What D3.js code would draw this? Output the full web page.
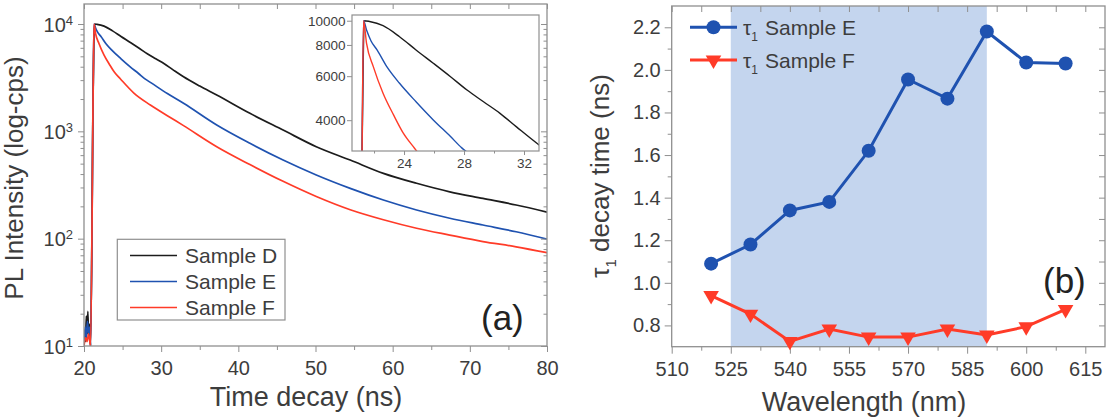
<!DOCTYPE html>
<html><head><meta charset="utf-8">
<script src="https://cdn.jsdelivr.net/npm/d3@7"></script>
<style>
body{margin:0;background:#fff}
svg{display:block;font-family:"Liberation Sans",Arial,Helvetica,sans-serif}
</style>
</head><body>
<svg id="chart" width="1116" height="417"></svg>
<script>
// ---------- Panel (a): PL decay curves ----------
const seriesNames = ["Sample D", "Sample E", "Sample F"];
const timeD = [20.0,20.1,20.2,20.3,20.4,20.5,20.6,20.7,20.85,21.2,21.35,21.7,22.6,23.7,24.8,25.95,27.1,28.2,29.3,30.4,31.5,32.9,35.0,37.2,41.5,45.8,50.1,54.5,58.8,63.1,67.4,71.7,76.0,80.0];
const intensityD = [10,14,11,19,13,21,12,16,10,2900,10000,9930,9550,8630,7640,6760,5970,5280,4740,4260,3760,3220,2640,2180,1472,1028,719,540,406,328,273,237,206,177];
const timeE = [20.0,20.15,20.3,20.45,20.6,20.75,20.85,21.2,21.3,21.5,21.8,22.2,22.85,23.7,24.8,25.95,27.1,27.85,28.6,30.8,32.9,37.2,41.5,45.8,50.1,54.5,58.8,63.1,67.4,71.7,76.0,80.0];
const intensityE = [10,15,12,17,13,15,10,2900,10000,9180,8300,7640,6550,5620,4740,4010,3440,3100,2860,2250,1825,1145,773,540,392,294,229,185,155,134,116,99];
const timeF = [20.0,20.2,20.4,20.6,20.85,21.2,21.3,21.5,21.95,22.6,23.3,23.95,24.7,26.5,28.6,30.8,32.9,37.2,41.5,45.8,50.1,54.5,58.8,63.1,67.4,71.7,76.0,80.0];
const intensityF = [10,12,11,13,10,2900,10000,8120,6550,5130,4200,3550,3090,2260,1760,1400,1130,719,490,342,247,186,150,125,108,94,84,74];
const mainXTicks = [20,30,40,50,60,70,80];
const mainXMinor = [25,35,45,55,65,75];
const mainYTicks = [10,100,1000,10000];
const insetXTicks = [24,28,32];
const insetXMinor = [22,26,30];
const insetYTicks = [4000,6000,8000,10000];

// ---------- Panel (b): tau1 vs wavelength ----------
const wavelength = [520,530,540,550,560,570,580,590,600,610];
const tauE = [1.09,1.18,1.34,1.38,1.62,1.955,1.865,2.18,2.035,2.03];
const tauF = [0.94,0.853,0.725,0.783,0.745,0.745,0.783,0.755,0.794,0.875];
const wlTicks = [510,525,540,555,570,585,600,615];
const wlMinor = [517.5,532.5,547.5,562.5,577.5,592.5,607.5];
const tauTicks = [0.8,1.0,1.2,1.4,1.6,1.8,2.0,2.2];
const tauMinor = [0.9,1.1,1.3,1.5,1.7,1.9,2.1];
const shadeRange = [525,590];
const legendB = ["Sample E","Sample F"];

const colD = "#1c1c1c", colE = "#1f52b0", colF = "#ff3b28";
const frameCol = "#8f8f8f", textCol = "#3d3d3d";
const svg = d3.select("#chart");

function styleAxis(g, fs){
  g.select(".domain").remove();
  g.selectAll(".tick line").attr("stroke", frameCol).attr("stroke-width",1);
  g.selectAll(".tick text").attr("fill", textCol).attr("font-size", fs).attr("font-family","Liberation Sans, Arial, sans-serif");
  return g;
}

// ===== Panel (a) =====
const A = {l:84, r:547, t:4, b:346};
const xA = d3.scaleLinear([20,80],[A.l,A.r]);
const yA = d3.scaleLog([10, Math.pow(10,4.1864)],[A.b,A.t]);
const minorLog = [];
[10,100,1000].forEach(p=>{for(let k=2;k<=9;k++) minorLog.push(p*k);});
const minorLogF = minorLog.filter(v=>v>10 && v<yA.domain()[1] && !mainYTicks.includes(v));

svg.append("clipPath").attr("id","clipA").append("rect")
  .attr("x",A.l).attr("y",A.t).attr("width",A.r-A.l).attr("height",A.b-A.t);

const gA = svg.append("g");
const lineA = d3.line().x(d=>xA(d[0])).y(d=>yA(d[1])).curve(d3.curveMonotoneX);
const dataA = [d3.zip(timeD,intensityD), d3.zip(timeE,intensityE), d3.zip(timeF,intensityF)];
const colsA = [colD,colE,colF];
const curvesA = gA.append("g").attr("clip-path","url(#clipA)");
[0,1,2].forEach(i=>{
  curvesA.append("path").datum(dataA[i]).attr("d",lineA)
    .attr("fill","none").attr("stroke",colsA[i]).attr("stroke-width",1.7).attr("stroke-linejoin","round");
});

// axes (a)
styleAxis(gA.append("g").attr("transform",`translate(0,${A.b})`)
  .call(d3.axisBottom(xA).tickValues(mainXTicks).tickSize(6).tickSizeOuter(0).tickPadding(9)), 20);
styleAxis(gA.append("g").attr("transform",`translate(0,${A.b})`)
  .call(d3.axisBottom(xA).tickValues(mainXMinor).tickSize(4).tickSizeOuter(0).tickFormat("")), 20);
styleAxis(gA.append("g").attr("transform",`translate(0,${A.t})`)
  .call(d3.axisTop(xA).tickValues(mainXTicks.concat(mainXMinor)).tickSize(-5).tickSizeOuter(0).tickFormat("")), 20);
const yAx = styleAxis(gA.append("g").attr("transform",`translate(${A.l},0)`)
  .call(d3.axisLeft(yA).tickValues(mainYTicks).tickSize(6).tickSizeOuter(0).tickPadding(5)), 20);
yAx.selectAll(".tick text").each(function(d){
  const t = d3.select(this); t.text("10").attr("dy","0.36em");
  t.append("tspan").attr("dy","-0.55em").attr("font-size",13).text(Math.round(Math.log10(d)));
});
styleAxis(gA.append("g").attr("transform",`translate(${A.l},0)`)
  .call(d3.axisLeft(yA).tickValues(minorLogF).tickSize(3.5).tickSizeOuter(0).tickFormat("")), 20);
styleAxis(gA.append("g").attr("transform",`translate(${A.r},0)`)
  .call(d3.axisRight(yA).tickValues(mainYTicks).tickSize(-6).tickSizeOuter(0).tickFormat("")), 20);
styleAxis(gA.append("g").attr("transform",`translate(${A.r},0)`)
  .call(d3.axisRight(yA).tickValues(minorLogF).tickSize(-3.5).tickSizeOuter(0).tickFormat("")), 20);
gA.append("rect").attr("x",A.l).attr("y",A.t).attr("width",A.r-A.l).attr("height",A.b-A.t)
  .attr("fill","none").attr("stroke",frameCol).attr("stroke-width",1.3);

// inset
const I = {l:352, r:539, t:15, b:151};
const xI = d3.scaleLinear([20.53,33],[I.l,I.r]);
const yI = d3.scaleLog([3012,10540],[I.b,I.t]);
gA.append("rect").attr("x",I.l).attr("y",I.t).attr("width",I.r-I.l).attr("height",I.b-I.t)
  .attr("fill","#fff").attr("stroke","none");
svg.append("clipPath").attr("id","clipI").append("rect")
  .attr("x",I.l).attr("y",I.t).attr("width",I.r-I.l).attr("height",I.b-I.t);
const lineI = d3.line().x(d=>xI(d[0])).y(d=>yI(d[1])).curve(d3.curveMonotoneX);
const curvesI = gA.append("g").attr("clip-path","url(#clipI)");
[0,1,2].forEach(i=>{
  curvesI.append("path").datum(dataA[i]).attr("d",lineI)
    .attr("fill","none").attr("stroke",colsA[i]).attr("stroke-width",1.4).attr("stroke-linejoin","round");
});
styleAxis(gA.append("g").attr("transform",`translate(0,${I.b})`)
  .call(d3.axisBottom(xI).tickValues(insetXTicks).tickSize(4).tickSizeOuter(0).tickPadding(3.5)), 13.5);
styleAxis(gA.append("g").attr("transform",`translate(0,${I.b})`)
  .call(d3.axisBottom(xI).tickValues(insetXMinor).tickSize(2.5).tickSizeOuter(0).tickFormat("")), 13.5);
styleAxis(gA.append("g").attr("transform",`translate(${I.l},0)`)
  .call(d3.axisLeft(yI).tickValues(insetYTicks).tickSize(5).tickSizeOuter(0).tickPadding(1.5).tickFormat(d3.format("d"))), 13.5);
gA.append("rect").attr("x",I.l).attr("y",I.t).attr("width",I.r-I.l).attr("height",I.b-I.t)
  .attr("fill","none").attr("stroke",frameCol).attr("stroke-width",1.2);

// legend (a)
const legA = gA.append("g");
legA.append("rect").attr("x",117.3).attr("y",239.3).attr("width",167.7).attr("height",80.7)
  .attr("fill","#fff").attr("stroke",frameCol).attr("stroke-width",1.2);
seriesNames.forEach((n,i)=>{
  const cy = 255.5 + i*26;
  legA.append("line").attr("x1",130).attr("x2",177).attr("y1",cy).attr("y2",cy)
    .attr("stroke",colsA[i]).attr("stroke-width",1.4);
  legA.append("text").attr("x",185).attr("y",cy+7.3).attr("font-size",21).attr("fill",textCol).text(n);
});
gA.append("text").attr("x",481).attr("y",329.5).attr("font-size",35).attr("fill","#222").text("(a)");
gA.append("text").attr("x",306).attr("y",406).attr("text-anchor","middle").attr("font-size",27).attr("fill",textCol).text("Time decay (ns)");
gA.append("text").attr("transform","translate(23,178) rotate(-90)").attr("text-anchor","middle")
  .attr("font-size",26).attr("fill",textCol).text("PL Intensity (log-cps)");

// ===== Panel (b) =====
const B = {l:671.7, r:1105, t:6, b:346.7};
const xB = d3.scaleLinear([510,620],[B.l,B.r]);
const yB = d3.scaleLinear([0.7,2.3],[B.b,B.t]);
const gB = svg.append("g");
gB.append("rect").attr("x",xB(shadeRange[0])).attr("y",B.t).attr("width",xB(shadeRange[1])-xB(shadeRange[0]))
  .attr("height",B.b-B.t).attr("fill","#c4d5ee");

styleAxis(gB.append("g").attr("transform",`translate(0,${B.b})`)
  .call(d3.axisBottom(xB).tickValues(wlTicks).tickSize(7).tickSizeOuter(0).tickPadding(8)), 20);
styleAxis(gB.append("g").attr("transform",`translate(0,${B.b})`)
  .call(d3.axisBottom(xB).tickValues(wlMinor).tickSize(4).tickSizeOuter(0).tickFormat("")), 20);
styleAxis(gB.append("g").attr("transform",`translate(0,${B.t})`)
  .call(d3.axisTop(xB).tickValues(wlTicks.concat(wlMinor)).tickSize(-6).tickSizeOuter(0).tickFormat("")), 20);
styleAxis(gB.append("g").attr("transform",`translate(${B.l},0)`)
  .call(d3.axisLeft(yB).tickValues(tauTicks).tickSize(7).tickSizeOuter(0).tickPadding(4).tickFormat(d3.format(".1f"))), 20);
styleAxis(gB.append("g").attr("transform",`translate(${B.l},0)`)
  .call(d3.axisLeft(yB).tickValues(tauMinor).tickSize(4).tickSizeOuter(0).tickFormat("")), 20);
styleAxis(gB.append("g").attr("transform",`translate(${B.r},0)`)
  .call(d3.axisRight(yB).tickValues(tauTicks.concat(tauMinor)).tickSize(-6).tickSizeOuter(0).tickFormat("")), 20);
gB.append("rect").attr("x",B.l).attr("y",B.t).attr("width",B.r-B.l).attr("height",B.b-B.t)
  .attr("fill","none").attr("stroke",frameCol).attr("stroke-width",1.3);

const lineB = d3.line().x(d=>xB(d[0])).y(d=>yB(d[1]));
const triSym = d3.symbol().type(d3.symbolTriangle).size(105);
gB.append("path").datum(d3.zip(wavelength,tauF)).attr("d",lineB).attr("fill","none").attr("stroke",colF).attr("stroke-width",3);
gB.selectAll(".tri").data(d3.zip(wavelength,tauF)).join("path")
  .attr("transform",d=>`translate(${xB(d[0])},${yB(d[1])}) rotate(180)`).attr("d",triSym).attr("fill",colF);
gB.append("path").datum(d3.zip(wavelength,tauE)).attr("d",lineB).attr("fill","none").attr("stroke",colE).attr("stroke-width",3);
gB.selectAll(".dot").data(d3.zip(wavelength,tauE)).join("circle")
  .attr("cx",d=>xB(d[0])).attr("cy",d=>yB(d[1])).attr("r",7).attr("fill",colE);

// legend (b)
const legB = gB.append("g");
[[colE,27.3],[colF,60]].forEach(([c,cy],i)=>{
  legB.append("line").attr("x1",690).attr("x2",737).attr("y1",cy).attr("y2",cy).attr("stroke",c).attr("stroke-width",3);
  if(i===0) legB.append("circle").attr("cx",713.5).attr("cy",cy).attr("r",7).attr("fill",c);
  else legB.append("path").attr("transform",`translate(713.5,${cy}) rotate(180)`).attr("d",triSym).attr("fill",c);
  const t = legB.append("text").attr("x",743).attr("y",cy+7.5).attr("font-size",21).attr("fill",textCol);
  t.append("tspan").text("τ");
  t.append("tspan").attr("font-size",12).attr("dy",6).text("1");
  t.append("tspan").attr("dy",-6).attr("dx",7).text(legendB[i]);
});
gB.append("text").attr("x",1043).attr("y",292.5).attr("font-size",35).attr("fill","#222").text("(b)");
gB.append("text").attr("x",864).attr("y",411).attr("text-anchor","middle").attr("font-size",27).attr("fill",textCol).text("Wavelength (nm)");
const yl = gB.append("text").attr("transform","translate(609,176) rotate(-90)").attr("text-anchor","middle")
  .attr("font-size",26).attr("fill",textCol);
yl.append("tspan").text("τ");
yl.append("tspan").attr("font-size",15).attr("dy",7).text("1");
yl.append("tspan").attr("dy",-7).text(" decay time (ns)");
</script>
</body></html>
